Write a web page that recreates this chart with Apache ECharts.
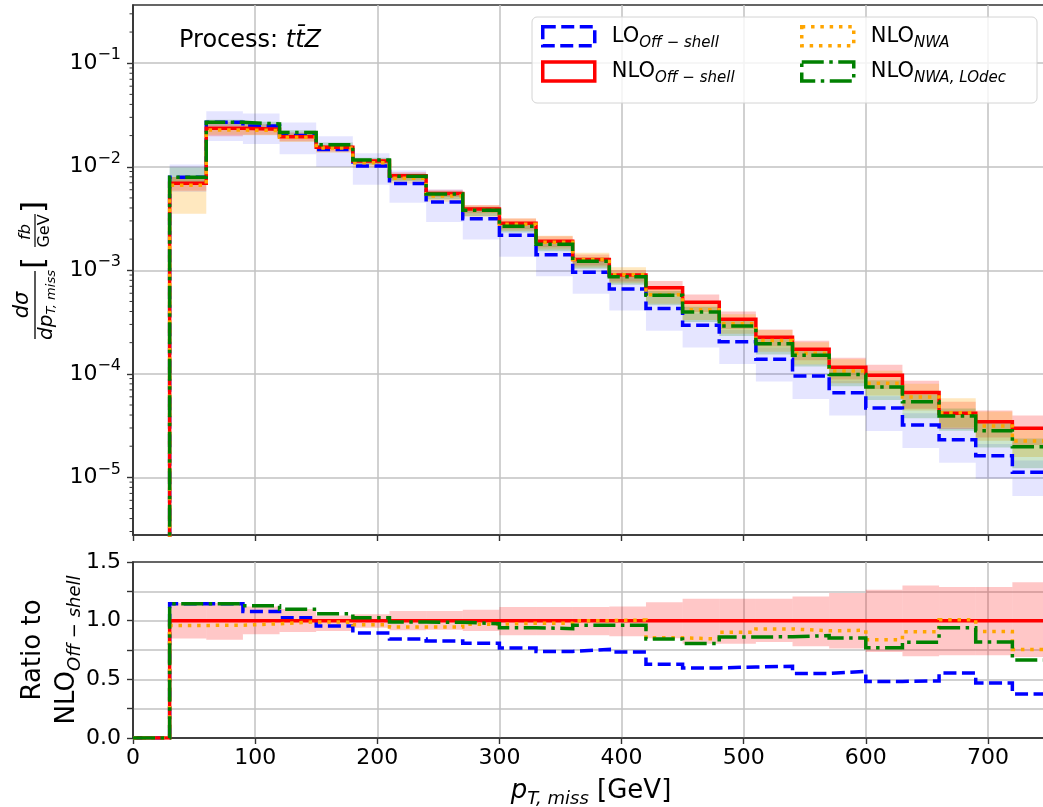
<!DOCTYPE html>
<html>
<head>
<meta charset="utf-8">
<script src="https://cdn.jsdelivr.net/npm/echarts@6.0.0/dist/echarts.min.js"></script>
<style>
html,body{margin:0;padding:0;background:#fff;}
#chart{width:1043px;height:807px;}
</style>
</head>
<body>
<div id="chart"></div>
<script>
// ---------------- data ----------------
const binEdges = [0, 30, 60, 90, 120, 150, 180, 210, 240, 270, 300, 330, 360, 390, 420, 450, 480, 510, 540, 570, 600, 630, 660, 690, 720, 750];

// d sigma / d pT,miss  [fb/GeV], one value per bin
const loOffShell  = [0, 7.92e-3, 2.69e-2, 2.48e-2, 2.00e-2, 1.47e-2, 1.016e-2, 6.90e-3, 4.57e-3, 3.15e-3, 2.18e-3, 1.41e-3, 9.59e-4, 6.60e-4, 4.28e-4, 2.94e-4, 2.04e-4, 1.38e-4, 9.52e-5, 6.58e-5, 4.68e-5, 3.21e-5, 2.31e-5, 1.62e-5, 1.12e-5];
const nloOffShell = [0, 6.92e-3, 2.35e-2, 2.30e-2, 1.95e-2, 1.54e-2, 1.135e-2, 8.18e-3, 5.53e-3, 3.90e-3, 2.84e-3, 1.91e-3, 1.27e-3, 9.00e-4, 6.80e-4, 4.92e-4, 3.37e-4, 2.26e-4, 1.73e-4, 1.16e-4, 9.70e-5, 6.60e-5, 4.17e-5, 3.45e-5, 2.98e-5];
const nloNWA      = [0, 6.64e-3, 2.26e-2, 2.24e-2, 1.93e-2, 1.52e-2, 1.096e-2, 7.73e-3, 5.23e-3, 3.78e-3, 2.78e-3, 1.87e-3, 1.27e-3, 9.05e-4, 5.81e-4, 4.15e-4, 3.04e-4, 2.10e-4, 1.58e-4, 1.065e-4, 8.13e-5, 5.98e-5, 4.20e-5, 3.13e-5, 2.25e-5];
const nloNWALOdec = [0, 7.92e-3, 2.69e-2, 2.59e-2, 2.14e-2, 1.63e-2, 1.163e-2, 8.08e-3, 5.45e-3, 3.80e-3, 2.67e-3, 1.78e-3, 1.22e-3, 8.64e-4, 5.74e-4, 3.96e-4, 2.90e-4, 1.95e-4, 1.51e-4, 9.88e-5, 7.47e-5, 5.39e-5, 3.92e-5, 2.82e-5, 1.98e-5];

// scale-uncertainty bands, as factors of the central value (upper / lower)
const loUp       = [null, 1.33, 1.28, 1.32, 1.34, 1.34, 1.33, 1.33, 1.32, 1.32, 1.32, 1.31, 1.31, 1.31, 1.31, 1.30, 1.30, 1.30, 1.30, 1.30, 1.30, 1.30, 1.30, 1.30, 1.30];
const loDown     = [null, 0.72, 0.66, 0.67, 0.66, 0.68, 0.66, 0.65, 0.64, 0.63, 0.62, 0.62, 0.62, 0.62, 0.61, 0.61, 0.61, 0.61, 0.60, 0.60, 0.60, 0.60, 0.60, 0.60, 0.59];
const nloOffUp   = [null, 1.15, 1.15, 1.12, 1.10, 1.045, 1.054, 1.082, 1.082, 1.093, 1.116, 1.116, 1.116, 1.121, 1.158, 1.187, 1.187, 1.187, 1.206, 1.235, 1.263, 1.30, 1.286, 1.286, 1.328];
const nloOffDown = [null, 0.847, 0.838, 0.884, 0.904, 0.912, 0.94, 0.918, 0.923, 0.912, 0.875, 0.875, 0.875, 0.867, 0.85, 0.804, 0.804, 0.818, 0.782, 0.762, 0.734, 0.697, 0.705, 0.705, 0.691];
const nwaUp      = [null, 1.20, 1.08, 1.06, 1.06, 1.06, 1.08, 1.10, 1.10, 1.12, 1.14, 1.15, 1.16, 1.18, 1.20, 1.22, 1.24, 1.26, 1.28, 1.30, 1.32, 1.34, 1.38, 1.38, 1.30];
const nwaDown    = [null, 0.53, 0.90, 0.90, 0.90, 0.90, 0.90, 0.89, 0.88, 0.87, 0.86, 0.85, 0.84, 0.83, 0.82, 0.80, 0.80, 0.78, 0.78, 0.76, 0.76, 0.74, 0.72, 0.72, 0.70];
const lodecUp    = [null, 1.24, 1.06, 1.05, 1.05, 1.05, 1.05, 1.06, 1.06, 1.07, 1.08, 1.08, 1.09, 1.10, 1.10, 1.12, 1.12, 1.13, 1.14, 1.15, 1.16, 1.17, 1.18, 1.19, 1.20];
const lodecDown  = [null, 0.85, 0.92, 0.92, 0.92, 0.91, 0.90, 0.90, 0.89, 0.88, 0.87, 0.86, 0.85, 0.84, 0.80, 0.80, 0.80, 0.79, 0.78, 0.77, 0.75, 0.69, 0.72, 0.69, 0.62];

// axis ranges / ticks
const xMin = 0, xMax = 750, xTickStep = 100;
const yTopMin = 2.776e-6, yTopMax = 0.365;
const ratioMin = 0, ratioMax = 1.5, ratioTickStep = 0.25;
const seriesNames = ['LO_Off-shell', 'NLO_Off-shell', 'NLO_NWA', 'NLO_NWA,LOdec'];

// ---------------- styling ----------------
const FONT = 'DejaVu Sans';
const GRID_COLOR = '#c2c2c2';
const AXIS_COLOR = '#333333';
const LOG_FLOOR = 1e-9; // zero bins drawn below the visible log range

const styles = {
  'LO_Off-shell':  {color: '#0000ff', band: 'rgba(0,0,255,0.10)',   dash: [13, 5.5],           label: '{m|LO}{s|Off − shell}'},
  'NLO_Off-shell': {color: '#ff0000', band: 'rgba(255,0,0,0.22)',   dash: 'solid',             label: '{m|NLO}{s|Off − shell}'},
  'NLO_NWA':       {color: '#ffa500', band: 'rgba(255,165,0,0.25)', dash: [3.5, 5.8],          label: '{m|NLO}{s|NWA}'},
  'NLO_NWA,LOdec': {color: '#008000', band: 'rgba(0,128,0,0.20)',   dash: [22, 5.5, 3.5, 5.5], label: '{m|NLO}{s|NWA, LOdec}'}
};
const seriesData = {
  'LO_Off-shell':  {vals: loOffShell,  up: loUp,     down: loDown},
  'NLO_Off-shell': {vals: nloOffShell, up: nloOffUp, down: nloOffDown},
  'NLO_NWA':       {vals: nloNWA,      up: nwaUp,    down: nwaDown},
  'NLO_NWA,LOdec': {vals: nloNWALOdec, up: lodecUp,  down: lodecDown}
};

// ---------------- helpers ----------------
function stepData(vals, floor) {
  const d = vals.map((v, i) => [binEdges[i], (floor && !(v > 0)) ? floor : v]);
  const last = vals[vals.length - 1];
  d.push([binEdges[binEdges.length - 1], last]);
  return d;
}
function ratioOf(vals) {
  return vals.map((v, i) => nloOffShell[i] > 0 ? v / nloOffShell[i] : 0);
}
function bandData(vals, up, down) {
  const out = [];
  vals.forEach((v, i) => {
    if (v > 0 && up[i] != null) out.push([binEdges[i], binEdges[i + 1], v * down[i], v * up[i]]);
  });
  return out;
}
function bandRender(color) {
  return function (params, api) {
    const p0 = api.coord([api.value(0), api.value(3)]);
    const p1 = api.coord([api.value(1), api.value(2)]);
    const cs = params.coordSys;
    const shape = echarts.graphic.clipRectByRect(
      {x: p0[0], y: p0[1], width: p1[0] - p0[0], height: p1[1] - p0[1]},
      {x: cs.x, y: cs.y, width: cs.width, height: cs.height});
    return shape && {type: 'rect', shape: shape, style: {fill: color}};
  };
}

// minor ticks for the log axis (2..9 x 10^n)
const minorTickVals = [];
for (let n = -6; n <= -1; n++) {
  for (let k = 2; k <= 9; k++) {
    const v = k * Math.pow(10, n);
    if (v > yTopMin && v < yTopMax) minorTickVals.push([xMin, v]);
  }
}

// ---------------- series ----------------
const series = [];
seriesNames.forEach((name) => {
  const s = seriesData[name];
  series.push({
    type: 'custom', xAxisIndex: 0, yAxisIndex: 0, silent: true, z: 1,
    renderItem: bandRender(styles[name].band),
    encode: {x: [0, 1], y: [2, 3]},
    data: bandData(s.vals, s.up, s.down)
  });
});
// ratio band for NLO off-shell
series.push({
  type: 'custom', xAxisIndex: 1, yAxisIndex: 1, silent: true, z: 1,
  renderItem: bandRender(styles['NLO_Off-shell'].band),
  encode: {x: [0, 1], y: [2, 3]},
  data: bandData(ratioOf(nloOffShell), nloOffUp, nloOffDown)
});
seriesNames.forEach((name, k) => {
  const st = styles[name];
  const common = {
    type: 'line', name: name, step: 'end', symbol: 'none', showSymbol: false, clip: true,
    z: 3 + k, animation: false, emphasis: {disabled: true},
    lineStyle: {color: st.color, width: 3.5, type: st.dash, cap: 'butt', join: 'miter'},
    itemStyle: {color: st.color}
  };
  series.push(Object.assign({}, common, {xAxisIndex: 0, yAxisIndex: 0, data: stepData(seriesData[name].vals, LOG_FLOOR)}));
  series.push(Object.assign({}, common, {xAxisIndex: 1, yAxisIndex: 1, data: stepData(ratioOf(seriesData[name].vals))}));
});
series.push({
  type: 'custom', xAxisIndex: 0, yAxisIndex: 0, silent: true, z: 8,
  encode: {x: 0, y: 1},
  data: minorTickVals,
  renderItem: function (params, api) {
    const p = api.coord([api.value(0), api.value(1)]);
    return {type: 'line', shape: {x1: p[0] - 3.5, y1: p[1], x2: p[0], y2: p[1]}, style: {stroke: AXIS_COLOR, lineWidth: 1}};
  }
});

// ---------------- legend ----------------
const legendRich = {
  m: {fontFamily: FONT, fontSize: 21, lineHeight: 28, color: '#000', padding: [0, 0, 0, 12]},
  s: {fontFamily: FONT, fontSize: 15, lineHeight: 15, fontStyle: 'italic', color: '#000', verticalAlign: 'bottom'}
};
function legendItem(name) {
  const st = styles[name];
  return {
    name: name, icon: 'rect',
    itemStyle: {color: 'rgba(255,255,255,0)', borderColor: st.color, borderWidth: 3.5, borderType: st.dash, borderCap: 'butt'}
  };
}
function legendBlock(names, left) {
  return {
    data: names.map(legendItem), orient: 'vertical', left: left, top: 25,
    itemWidth: 52, itemHeight: 19, itemGap: 10, padding: 0, selectedMode: false, z: 10,
    formatter: (n) => styles[n].label,
    textStyle: {rich: legendRich}
  };
}

// ---------------- axes ----------------
const axisLineStyle = {color: AXIS_COLOR, width: 1.6};
const splitLineCfg = {show: true, showMinLine: false, showMaxLine: false, lineStyle: {color: GRID_COLOR, width: 1.5}};

const option = {
  animation: false,
  backgroundColor: '#ffffff',
  textStyle: {fontFamily: FONT},
  grid: [
    {left: 133, top: 5, width: 916, height: 530, show: true, borderColor: AXIS_COLOR, borderWidth: 1.6, outerBoundsMode: 'none', containLabel: false},
    {left: 133, top: 562, width: 916, height: 176, show: true, borderColor: AXIS_COLOR, borderWidth: 1.6, outerBoundsMode: 'none', containLabel: false}
  ],
  xAxis: [
    {
      gridIndex: 0, type: 'value', min: xMin, max: xMax, interval: xTickStep,
      axisLine: {show: true, onZero: false, lineStyle: axisLineStyle},
      axisTick: {show: true, length: 6, lineStyle: {color: AXIS_COLOR, width: 1.4}},
      axisLabel: {show: false},
      splitLine: splitLineCfg
    },
    {
      gridIndex: 1, type: 'value', min: xMin, max: xMax, interval: xTickStep,
      axisLine: {show: true, onZero: false, lineStyle: axisLineStyle},
      axisTick: {show: true, length: 6, lineStyle: {color: AXIS_COLOR, width: 1.4}},
      axisLabel: {show: true, fontFamily: FONT, fontSize: 22, color: '#000', margin: 9, showMaxLabel: false},
      splitLine: splitLineCfg,
      name: '{i|p}{s|T, miss}{n| [GeV]}',
      nameLocation: 'middle', nameGap: 36,
      nameTextStyle: {
        rich: {
          i: {fontFamily: FONT, fontSize: 26, fontStyle: 'italic', lineHeight: 34, color: '#000'},
          s: {fontFamily: FONT, fontSize: 18, fontStyle: 'italic', lineHeight: 18, color: '#000', verticalAlign: 'bottom'},
          n: {fontFamily: FONT, fontSize: 26, lineHeight: 34, color: '#000'}
        }
      }
    }
  ],
  yAxis: [
    {
      gridIndex: 0, type: 'log', logBase: 10, min: yTopMin, max: yTopMax,
      axisLine: {show: true, onZero: false, lineStyle: axisLineStyle},
      axisTick: {show: true, length: 6, lineStyle: {color: AXIS_COLOR, width: 1.4}},
      axisLabel: {
        show: true, margin: 12, showMinLabel: false, showMaxLabel: false,
        formatter: function (v) {
          const l = Math.log10(v), e = Math.round(l);
          if (Math.abs(l - e) > 1e-6) return '';
          return '{b|10}{s|' + (e < 0 ? '−' : '') + Math.abs(e) + '}';
        },
        rich: {
          b: {fontFamily: FONT, fontSize: 22, lineHeight: 32, color: '#000'},
          s: {fontFamily: FONT, fontSize: 16, lineHeight: 16, color: '#000', verticalAlign: 'top'}
        }
      },
      splitLine: splitLineCfg
    },
    {
      gridIndex: 1, type: 'value', min: ratioMin, max: ratioMax, interval: ratioTickStep,
      axisLine: {show: true, onZero: false, lineStyle: axisLineStyle},
      axisTick: {show: true, length: 6, lineStyle: {color: AXIS_COLOR, width: 1.4}},
      axisLabel: {
        show: true, margin: 12, fontFamily: FONT, fontSize: 22, color: '#000',
        formatter: function (v) {
          return Math.abs(v / 0.5 - Math.round(v / 0.5)) < 1e-6 ? v.toFixed(1) : '';
        }
      },
      splitLine: splitLineCfg
    }
  ],
  legend: [
    legendBlock(['LO_Off-shell', 'NLO_Off-shell'], 541),
    legendBlock(['NLO_NWA', 'NLO_NWA,LOdec'], 800)
  ],
  graphic: [
    {
      type: 'rect', z: 9, silent: true,
      shape: {x: 532, y: 17, width: 505, height: 86, r: 5},
      style: {fill: 'rgba(255,255,255,0.8)', stroke: '#d4d4d4', lineWidth: 1}
    },
    {
      type: 'text', z: 10, x: 179, y: 41, silent: true,
      style: {
        text: '{n|Process: }{i|tt\u0304Z}',
        align: 'left', verticalAlign: 'middle', textAlign: 'left', textVerticalAlign: 'middle',
        rich: {
          n: {fontFamily: FONT, fontSize: 24, color: '#000'},
          i: {fontFamily: FONT, fontSize: 24, fontStyle: 'italic', color: '#000'}
        }
      }
    },
    // y title (top panel): d sigma / d pT,miss [fb/GeV]
    {
      type: 'group', x: 35, y: 270, rotation: Math.PI / 2, silent: true, z: 10,
      children: [
        {type: 'text', x: -35, y: -12, style: {text: 'dσ', font: 'italic 21px "DejaVu Sans"', fill: '#000', align: 'center', verticalAlign: 'middle', textAlign: 'center', textVerticalAlign: 'middle'}},
        {type: 'line', shape: {x1: -69, y1: 0, x2: -1, y2: 0}, style: {stroke: '#000', lineWidth: 1.3}},
        {type: 'text', x: -35, y: 12, style: {
          text: '{i|dp}{s|T, miss}', align: 'center', verticalAlign: 'middle', textAlign: 'center', textVerticalAlign: 'middle',
          rich: {
            i: {fontFamily: FONT, fontSize: 20, fontStyle: 'italic', lineHeight: 22, color: '#000'},
            s: {fontFamily: FONT, fontSize: 13, fontStyle: 'italic', lineHeight: 13, color: '#000', verticalAlign: 'bottom'}
          }}},
        {type: 'text', x: 7, y: 0, style: {text: '[', font: '31px "DejaVu Sans"', fill: '#000', align: 'center', verticalAlign: 'middle', textAlign: 'center', textVerticalAlign: 'middle'}},
        {type: 'text', x: 38, y: -9, style: {text: 'fb', font: 'italic 16px "DejaVu Sans"', fill: '#000', align: 'center', verticalAlign: 'middle', textAlign: 'center', textVerticalAlign: 'middle'}},
        {type: 'line', shape: {x1: 23, y1: 0, x2: 56, y2: 0}, style: {stroke: '#000', lineWidth: 1.2}},
        {type: 'text', x: 39, y: 10, style: {text: 'GeV', font: '16px "DejaVu Sans"', fill: '#000', align: 'center', verticalAlign: 'middle', textAlign: 'center', textVerticalAlign: 'middle'}},
        {type: 'text', x: 63, y: 0, style: {text: ']', font: '31px "DejaVu Sans"', fill: '#000', align: 'center', verticalAlign: 'middle', textAlign: 'center', textVerticalAlign: 'middle'}}
      ]
    },
    // y title (ratio panel)
    {
      type: 'group', x: 50, y: 650, rotation: Math.PI / 2, silent: true, z: 10,
      children: [
        {type: 'text', x: 0, y: 0, style: {
          text: '{r|Ratio to}\n{m|NLO}{s|Off − shell}',
          align: 'center', verticalAlign: 'middle', textAlign: 'center', textVerticalAlign: 'middle',
          rich: {
            r: {fontFamily: FONT, fontSize: 26, lineHeight: 34, color: '#000'},
            m: {fontFamily: FONT, fontSize: 26, lineHeight: 34, color: '#000'},
            s: {fontFamily: FONT, fontSize: 18, lineHeight: 18, fontStyle: 'italic', color: '#000', verticalAlign: 'bottom'}
          }}}
      ]
    }
  ],
  series: series
};

const chart = echarts.init(document.getElementById('chart'), null, {renderer: 'canvas'});
chart.setOption(option);
</script>
</body>
</html>
